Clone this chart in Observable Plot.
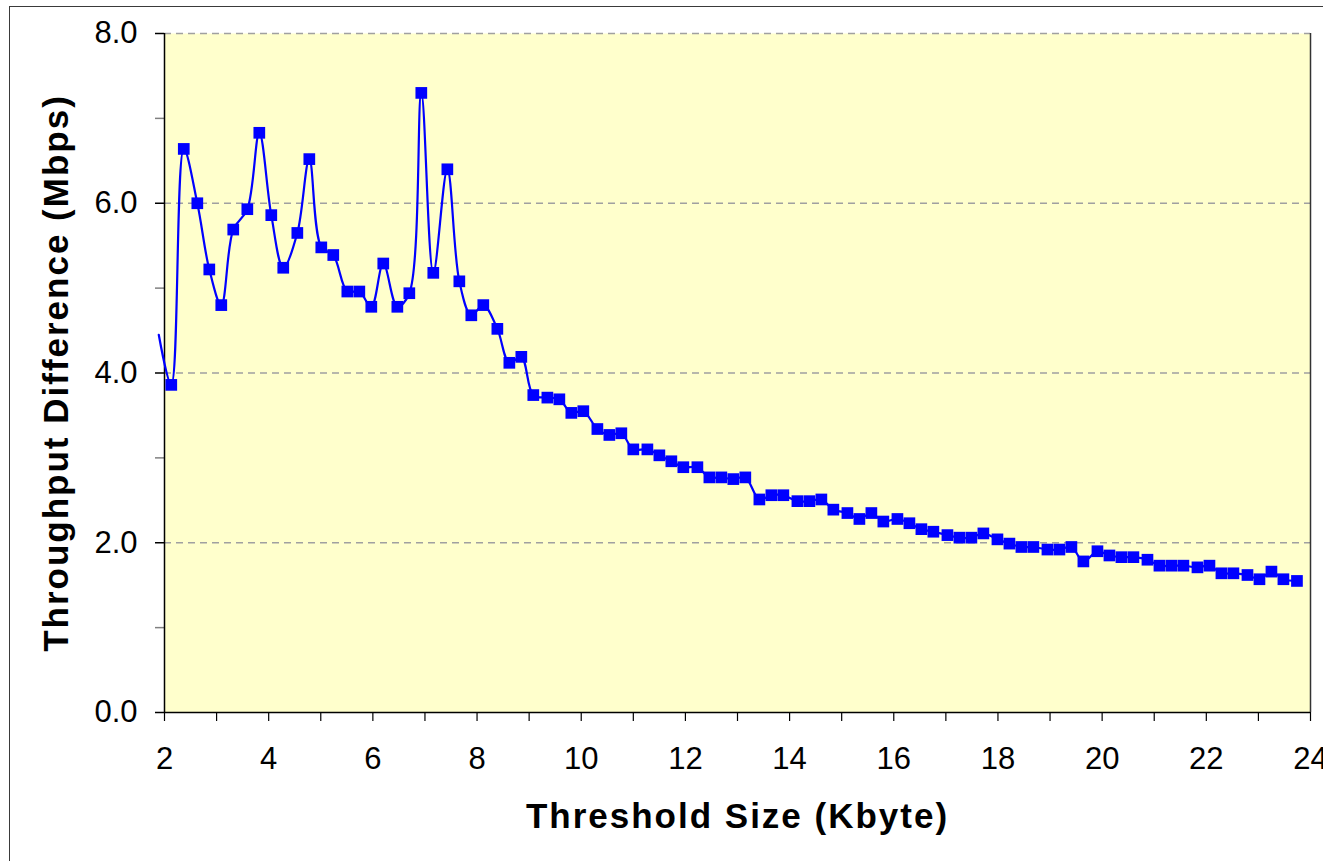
<!DOCTYPE html>
<html>
<head>
<meta charset="utf-8">
<script src="https://cdn.jsdelivr.net/npm/d3@7"></script>
<script src="https://cdn.jsdelivr.net/npm/@observablehq/plot@0.6"></script>
<style>
  html, body { margin: 0; padding: 0; overflow: hidden; background: white; }
  #wrap { position: relative; width: 1323px; height: 861px; }
  #frame { position: absolute; left: 9px; top: 6px; width: 1400px; height: 900px; border: 1.5px solid #3a3a3a; pointer-events: none; z-index: 2; }
  #chart { position: absolute; left: 0; top: 0; z-index: 1; }
</style>
</head>
<body>
<div id="wrap"><div id="chart"></div><div id="frame"></div></div>
<script>
// Threshold size (Kbyte) and throughput difference (Mbps)
const thresholdKB = [1.89, 2.13, 2.37, 2.63, 2.86, 3.09, 3.32, 3.59, 3.82, 4.05, 4.28, 4.55, 4.78, 5.01, 5.24, 5.51, 5.74, 5.97, 6.20, 6.47, 6.70, 6.93, 7.16, 7.43, 7.66, 7.89, 8.12, 8.39, 8.62, 8.85, 9.08, 9.35, 9.58, 9.81, 10.04, 10.31, 10.54, 10.77, 11.00, 11.27, 11.50, 11.73, 11.96, 12.23, 12.46, 12.69, 12.92, 13.15, 13.42, 13.65, 13.88, 14.15, 14.38, 14.61, 14.84, 15.11, 15.34, 15.57, 15.80, 16.07, 16.30, 16.53, 16.76, 17.03, 17.26, 17.49, 17.72, 17.99, 18.22, 18.45, 18.68, 18.95, 19.18, 19.41, 19.64, 19.91, 20.14, 20.37, 20.60, 20.87, 21.10, 21.33, 21.56, 21.83, 22.06, 22.29, 22.52, 22.79, 23.02, 23.25, 23.48, 23.74];
const throughputDiff = [4.45, 3.86, 6.64, 6.00, 5.22, 4.80, 5.69, 5.93, 6.83, 5.86, 5.24, 5.65, 6.52, 5.48, 5.39, 4.96, 4.96, 4.78, 5.29, 4.78, 4.94, 7.30, 5.18, 6.40, 5.08, 4.68, 4.80, 4.52, 4.12, 4.19, 3.74, 3.71, 3.69, 3.53, 3.55, 3.34, 3.27, 3.29, 3.10, 3.10, 3.03, 2.96, 2.89, 2.89, 2.77, 2.77, 2.75, 2.77, 2.51, 2.56, 2.56, 2.49, 2.49, 2.51, 2.39, 2.35, 2.28, 2.35, 2.25, 2.28, 2.23, 2.16, 2.13, 2.09, 2.06, 2.06, 2.11, 2.04, 1.99, 1.95, 1.95, 1.92, 1.92, 1.95, 1.78, 1.90, 1.85, 1.83, 1.83, 1.80, 1.73, 1.73, 1.73, 1.71, 1.73, 1.64, 1.64, 1.62, 1.57, 1.66, 1.57, 1.55];
const xMajorTicks = [2, 4, 6, 8, 10, 12, 14, 16, 18, 20, 22, 24];
const xMinorTicks = [3, 5, 7, 9, 11, 13, 15, 17, 19, 21, 23];
const yMajorTicks = [0, 2, 4, 6, 8];
const yMinorTicks = [1, 3, 5, 7];
const yGridTicks = [2, 4, 6, 8];
const xTitle = "Threshold Size (Kbyte)";
const yTitle = "Throughput Difference (Mbps)";

const data = thresholdKB.map((x, i) => ({x, y: throughputDiff[i]}));
const markerData = data.filter(d => d.x >= 2);

const chart = Plot.plot({
  width: 1323,
  height: 861,
  marginLeft: 164,
  marginRight: 13,
  marginTop: 33,
  marginBottom: 149,
  style: {background: "transparent", fontFamily: "'Liberation Sans', Arial, sans-serif", fontSize: "30px", color: "black"},
  x: {domain: [2, 24]},
  y: {domain: [0, 8]},
  marks: [
    Plot.frame({fill: "#FFFFCC", stroke: "none"}),
    Plot.gridY(yGridTicks, {stroke: "#a0a0a0", strokeOpacity: 1, strokeWidth: 1.4, strokeDasharray: "7,5"}),
    Plot.ruleX([24], {stroke: "#333", strokeWidth: 1.5}),
    Plot.axisY(yMajorTicks, {tickSize: 9, tickPadding: 18, tickFormat: d => d.toFixed(1), stroke: "black", strokeWidth: 1.5, label: null, fontSize: 31}),
    Plot.axisY(yMinorTicks, {tickSize: 9, tickFormat: () => "", stroke: "#808080", strokeWidth: 1.5, label: null}),
    Plot.axisX(xMajorTicks, {tickSize: 9, tickPadding: 25, tickFormat: d => String(d), stroke: "black", strokeWidth: 1.2, label: null, fontSize: 31}),
    Plot.axisX(xMinorTicks, {tickSize: 9, tickFormat: () => "", stroke: "black", strokeWidth: 1.2, label: null}),
    Plot.ruleX([2], {stroke: "black", strokeWidth: 1.5}),
    Plot.ruleY([0], {stroke: "black", strokeWidth: 1.5}),
    Plot.line(data, {x: "x", y: "y", curve: "catmull-rom", stroke: "#0000FF", strokeWidth: 2.2}),
    Plot.dot(markerData, {x: "x", y: "y", symbol: "square", r: 6.6, fill: "#0000FF", stroke: "none"}),
    Plot.text([xTitle], {frameAnchor: "bottom", dy: 115, textAnchor: "middle", lineAnchor: "bottom", fontSize: 35, fontWeight: "bold", fill: "black", text: d => d}),
    Plot.text([yTitle], {frameAnchor: "left", dx: -97, rotate: -90, textAnchor: "middle", lineAnchor: "bottom", fontSize: 35, fontWeight: "bold", fill: "black", text: d => d})
  ]
});

d3.select(chart).selectAll("g[aria-label$='tick label']").style("font-size", "31px");
d3.select(chart).selectAll("text").filter(function() {
  const t = this.textContent;
  return t === xTitle || t === yTitle;
}).attr("letter-spacing", "2px");

document.getElementById("chart").appendChild(chart);
</script>
</body>
</html>
